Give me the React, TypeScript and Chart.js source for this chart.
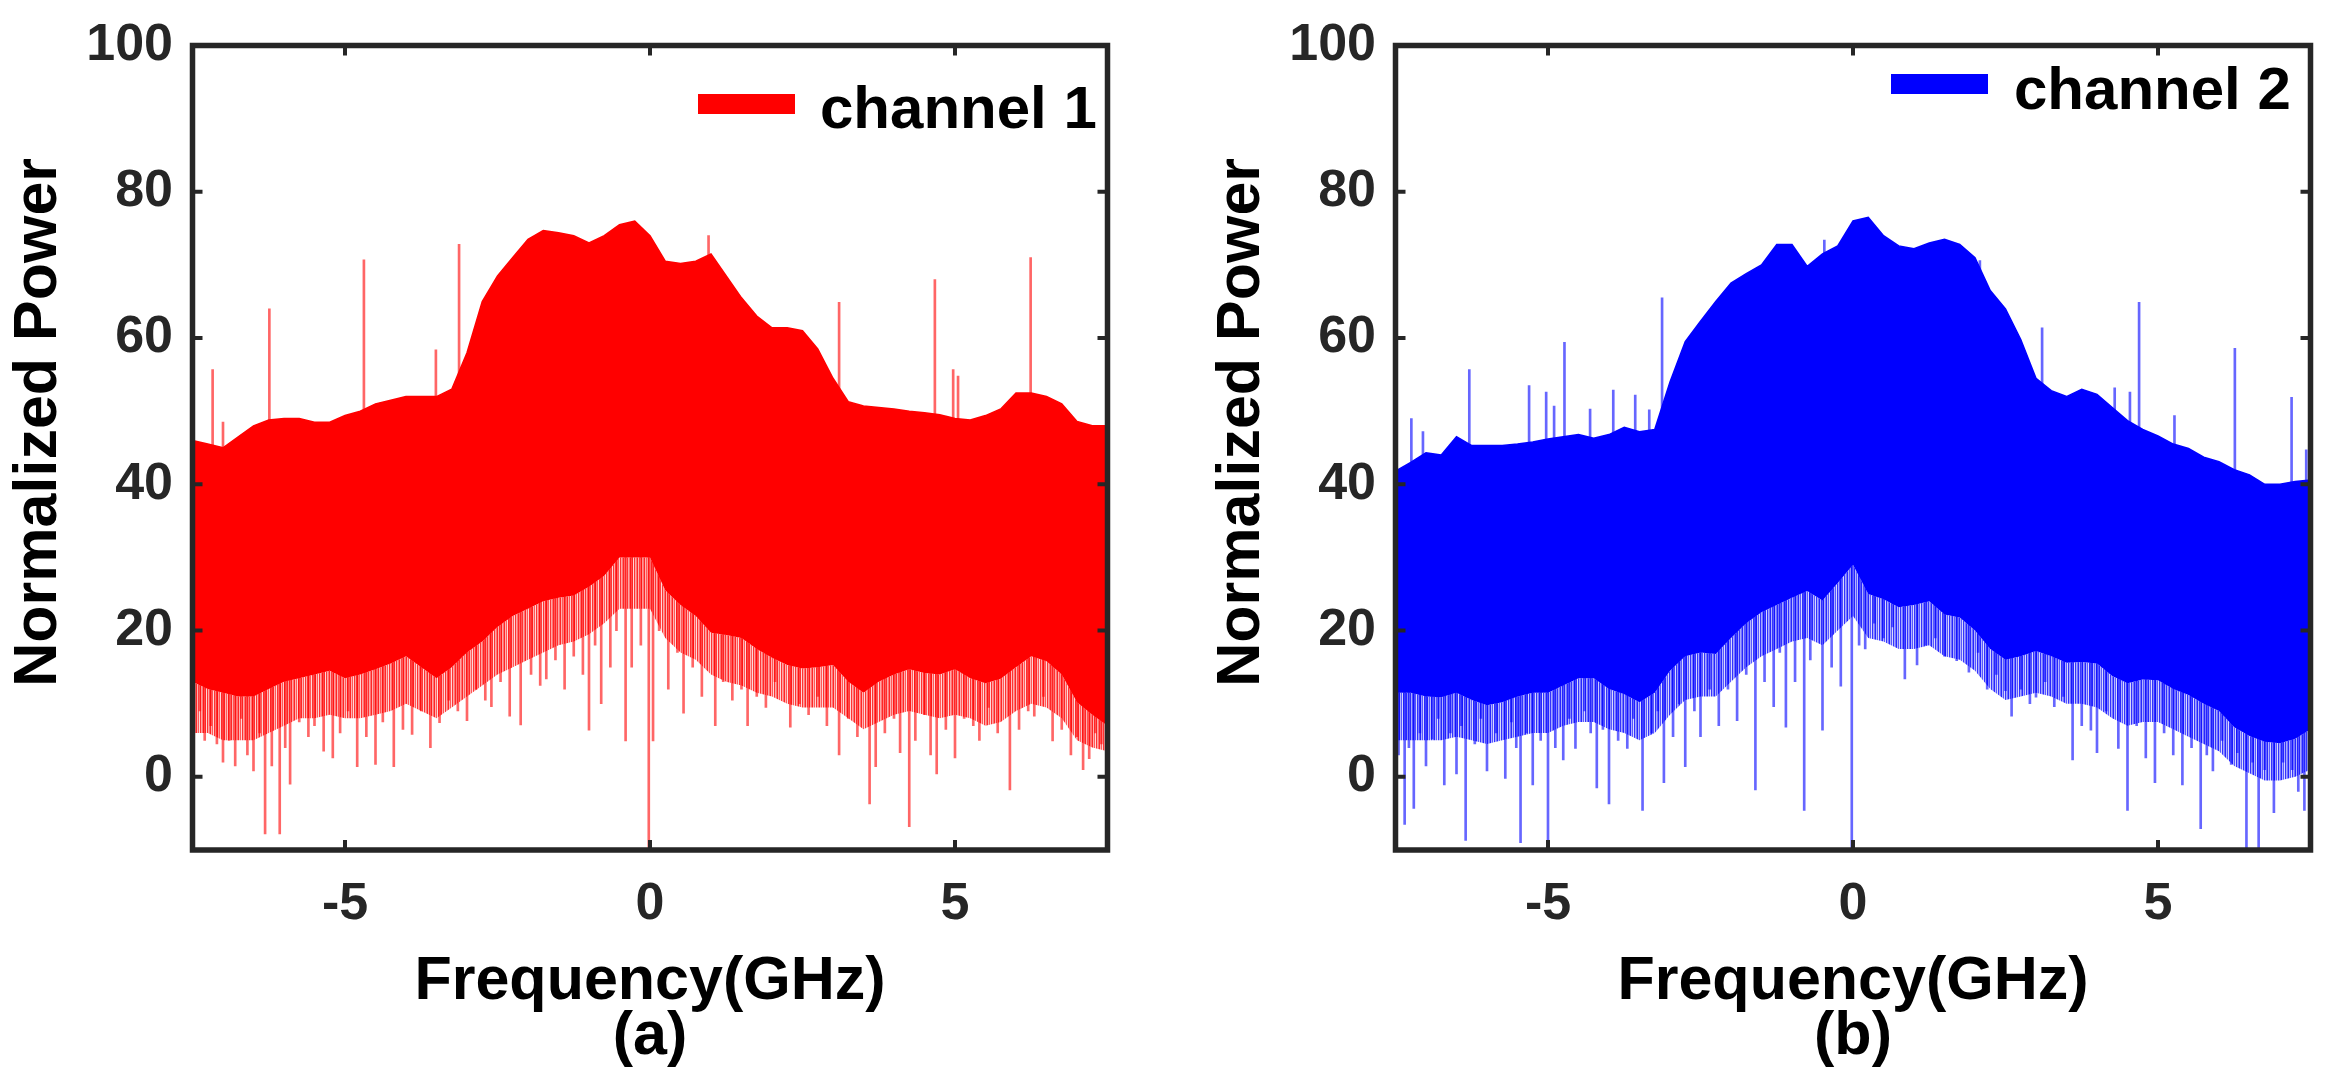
import { useEffect, useRef } from 'react';
import { Chart } from 'chart.js/auto';

const FONT = '"Liberation Sans", Arial, Helvetica, sans-serif';

// frequency grid (GHz) used for the envelope of the noise band
const freqGrid = [
  -7.5, -7.25, -7, -6.75, -6.5, -6.25, -6, -5.75, -5.5, -5.25,
  -5, -4.75, -4.5, -4.25, -4, -3.75, -3.5, -3.25, -3, -2.75,
  -2.5, -2.25, -2, -1.75, -1.5, -1.25, -1, -0.75, -0.5, -0.25,
  0, 0.25, 0.5, 0.75, 1, 1.25, 1.5, 1.75, 2, 2.25,
  2.5, 2.75, 3, 3.25, 3.5, 3.75, 4, 4.25, 4.5, 4.75,
  5, 5.25, 5.5, 5.75, 6, 6.25, 6.5, 6.75, 7, 7.25, 7.5,
];
const xTickValues = [-5, 0, 5];
const yTickValues = [0, 20, 40, 60, 80, 100];

// channel 1: top and bottom of the dense band, and where the line fringe thins out
const ch1Upper = [
  46, 45.5, 45, 46.5, 48, 48.8, 49, 49, 48.5, 48.5,
  49.4, 50, 51, 51.5, 52, 52, 52, 53, 58, 65,
  68.5, 71, 73.5, 74.7, 74.4, 74, 73, 74, 75.5, 76,
  74, 70.5, 70.2, 70.5, 71.5, 68.5, 65.5, 63, 61.4, 61.4,
  61, 58.5, 54.5, 51.3, 50.7, 50.5, 50.3, 50, 49.8, 49.5,
  49, 48.8, 49.4, 50.3, 52.5, 52.5, 52, 51, 48.6, 48, 48,
];
const ch1Lower = [
  13, 12, 11.5, 11, 11, 12, 13, 13.5, 14, 14.5,
  13.5, 14, 14.7, 15.5, 16.5, 15, 13.5, 15, 17, 18.5,
  20.5, 22, 23, 24, 24.5, 24.8, 26, 27.5, 30, 30,
  30, 25.5, 23.5, 22, 19.7, 19.4, 19, 17.5, 16.3, 15.3,
  14.8, 15, 15.3, 13, 11.5, 13, 14, 14.7, 14.2, 14,
  14.7, 13.5, 12.8, 13.4, 15, 16.5, 15.8, 14, 10.2, 8.5, 7,
];
const ch1Fringe = [
  6, 6, 5, 5, 5, 6, 7, 8, 8, 8.5,
  8, 8, 8.5, 9, 10, 9, 8, 9.5, 11, 12.5,
  14, 15, 16, 17, 18, 18.5, 19.5, 21, 23, 23,
  23, 19, 17, 16, 14, 13, 12.5, 11.5, 11, 10,
  9.5, 9.5, 9.5, 8, 6.5, 7.5, 8.5, 9, 8.5, 8,
  8.5, 8, 7, 7.5, 9, 10, 9.5, 8, 5, 4, 3.5,
];
// [freq, peak] of the isolated tones
const ch1Spikes = [
  [-7.17, 55.7], [-7.0, 48.5], [-6.24, 64], [-4.69, 70.7], [-3.51, 58.4], [-3.13, 72.8],
  [0.96, 74], [3.1, 64.9], [4.67, 68], [4.97, 55.7], [5.05, 54.8], [6.24, 71],
];
// [freq, lowest value] of the thin lines under the band
const ch1Dips = [
  [-7.48, 0], [-7.38, 9], [-7.3, 5], [-7.2, 7], [-7.1, 4.5], [-7.0, 2], [-6.9, 5], [-6.8, 1.5],
  [-6.7, 8], [-6.6, 3], [-6.5, 0.8], [-6.4, 6], [-6.31, -7.8], [-6.2, 1.5], [-6.07, -7.8], [-5.98, 4],
  [-5.9, -1], [-5.75, 7.5], [-5.6, 5.5], [-5.5, 7], [-5.35, 3.5], [-5.2, 2.6], [-5.08, 6], [-4.95, 9],
  [-4.8, 1.4], [-4.65, 5.5], [-4.5, 1.7], [-4.38, 7.5], [-4.2, 1.4], [-4.05, 6.5], [-3.9, 5.8], [-3.75, 9],
  [-3.6, 4], [-3.45, 7.4], [-3.3, 10.5], [-3.15, 9], [-3.0, 7.7], [-2.85, 12], [-2.7, 10.5], [-2.6, 9.6],
  [-2.45, 13], [-2.3, 8.3], [-2.12, 7.1], [-1.95, 14], [-1.8, 12.5], [-1.7, 13.4], [-1.55, 16], [-1.4, 12],
  [-1.25, 16.5], [-1.1, 14], [-1.0, 6.4], [-0.9, 18], [-0.8, 10], [-0.65, 15], [-0.55, 20], [-0.4, 4.9],
  [-0.3, 15], [-0.15, 18], [-0.02, -10],
  [0.05, 4.9], [0.15, 20], [0.3, 12], [0.45, 17], [0.55, 8.7], [0.7, 15], [0.85, 11], [1.07, 7],
  [1.2, 13], [1.35, 10.5], [1.5, 12], [1.6, 7], [1.75, 11], [1.9, 9.5], [2.05, 13], [2.3, 6.8],
  [2.45, 10], [2.6, 8.5], [2.75, 11], [2.9, 7], [3.1, 3], [3.25, 8], [3.4, 5.5], [3.6, -3.7],
  [3.7, 1.4], [3.85, 6], [4.0, 8], [4.1, 3.3], [4.25, -6.8], [4.35, 5], [4.5, 8.5], [4.6, 3],
  [4.7, 0.4], [4.85, 6.5], [5.0, 2.6], [5.15, 8], [5.3, 7], [5.4, 5], [5.55, 9.5], [5.7, 6],
  [5.9, -1.8], [6.05, 6.5], [6.2, 9], [6.3, 8.3], [6.45, 11], [6.6, 4.9], [6.75, 6.5], [6.9, 3],
  [7.0, 5.5], [7.1, 1], [7.2, 2.5], [7.3, 6], [7.4, 4.5],
];

// channel 2
const ch2Upper = [
  41.8, 43, 44.3, 44, 46.5, 45.3, 45.3, 45.3, 45.5, 45.8,
  46.2, 46.5, 46.8, 46.3, 46.8, 47.8, 47.2, 47.5, 54, 59.5,
  62.3, 65, 67.5, 68.8, 70, 72.8, 72.8, 69.8, 71.5, 72.6,
  76, 76.5, 74, 72.6, 72.2, 73, 73.5, 72.8, 71, 66.5,
  64, 59.8, 54.5, 52.8, 52, 53, 52.3, 50.5, 48.7, 47.5,
  46.6, 45.5, 44.9, 43.7, 43.1, 42, 41.3, 40, 40, 40.4, 40.6,
];
const ch2Lower = [
  11.5, 11.5, 11, 10.9, 11.5, 10.5, 9.8, 10.2, 11, 11.5,
  11.5, 12.5, 13.5, 13.5, 12, 11.3, 10.2, 11.5, 14.5, 16.5,
  17, 16.8, 19, 21, 22.5, 23.5, 24.5, 25.4, 24.1, 26.5,
  29, 25, 24.3, 23.2, 23.5, 24, 22.2, 21.8, 20, 17.5,
  16, 16.5, 17.2, 16.5, 15.6, 15.7, 15.5, 13.8, 12.8, 13.3,
  13.2, 12, 11.2, 10, 9, 6.8, 5.6, 4.8, 4.6, 5.2, 6.5,
];
const ch2Fringe = [
  5, 5, 5, 5, 5.5, 5, 4.5, 5, 5.5, 6,
  6, 7, 7.5, 7.5, 6.5, 6, 5, 6, 8.5, 10.5,
  11, 11, 13, 15, 16.5, 17.5, 18.5, 19, 18, 20,
  22, 19, 18.5, 17.5, 17.5, 18, 16.5, 16, 14.5, 12,
  10.5, 11, 11.5, 11, 10, 10, 9.5, 8, 7, 7.5,
  7.5, 6.5, 5.5, 4.5, 3.5, 1.5, 0.5, -0.5, -0.5, 0, 1,
];
const ch2Spikes = [
  [-7.24, 49], [-7.05, 47.2], [-6.29, 55.7], [-5.31, 53.5], [-5.03, 52.6], [-4.9, 50.7],
  [-4.73, 59.4], [-4.31, 50.3], [-3.93, 52.9], [-3.57, 52.2], [-3.34, 50.2], [-3.13, 65.5],
  [-0.47, 73.4], [2.08, 70.6], [3.1, 61.4], [4.29, 53.2], [4.54, 52.6], [4.69, 64.9],
  [5.27, 49.4], [6.26, 58.6], [7.19, 51.9], [7.43, 44.7],
];
const ch2Dips = [
  [-7.45, 3], [-7.35, -6.5], [-7.28, 4], [-7.2, -4.3], [-7.1, 6], [-7.0, 1.5], [-6.9, 5.2], [-6.8, 8],
  [-6.7, -1.1], [-6.6, 6], [-6.5, 0.4], [-6.42, 7], [-6.35, -8.7], [-6.2, 4.5], [-6.1, 8], [-6.0, 0.8],
  [-5.85, 6], [-5.7, -0.2], [-5.6, 7.5], [-5.52, 4], [-5.45, -9], [-5.35, 6], [-5.25, -1.1], [-5.12, 5],
  [-5.0, -9.7], [-4.88, 4], [-4.75, 2.3], [-4.65, 8], [-4.55, 3.9], [-4.4, 9], [-4.3, 6], [-4.2, -1.5],
  [-4.1, 6.5], [-4.0, -3.7], [-3.85, 5], [-3.7, 3.9], [-3.6, 8], [-3.45, -4.6], [-3.3, 6], [-3.2, 9],
  [-3.1, -0.8], [-2.95, 5.5], [-2.85, 10], [-2.75, 1.4], [-2.6, 9], [-2.5, 5.5], [-2.35, 12], [-2.2, 7],
  [-2.05, 12], [-1.9, 7.7], [-1.75, 14], [-1.6, -1.8], [-1.45, 13], [-1.3, 9.6], [-1.2, 17], [-1.1, 6.8],
  [-0.95, 13], [-0.8, -4.6], [-0.7, 16], [-0.5, 6.4], [-0.35, 15], [-0.2, 12.4], [-0.02, -10],
  [0.1, 18], [0.2, 17.5], [0.35, 21], [0.5, 19], [0.65, 20.5], [0.85, 13.4], [1.05, 15.3], [1.2, 18],
  [1.35, 19], [1.5, 16.5], [1.7, 15.9], [1.9, 14.3], [2.05, 17], [2.2, 12], [2.35, 14], [2.5, 11.8],
  [2.6, 8.3], [2.75, 12], [2.9, 10], [3.0, 10.9], [3.15, 13], [3.3, 9.6], [3.45, 11], [3.6, 2.3],
  [3.75, 7], [3.9, 6.4], [4.0, 3.3], [4.15, 9], [4.35, 3.9], [4.5, -4.6], [4.65, 7], [4.8, 2.6],
  [4.95, -0.8], [5.1, 6], [5.25, 3], [5.4, -1.1], [5.55, 4], [5.7, -7.1], [5.8, 3], [5.9, 0.8],
  [6.05, 5], [6.2, 1.7], [6.3, 3.3], [6.45, -9.7], [6.55, 2], [6.65, -9.7], [6.75, 1], [6.9, -4.9],
  [7.05, 2], [7.2, 1], [7.3, -2], [7.4, -4.6],
];

// box + inward tick marks on all four sides, like the MATLAB axes
const framePlugin = {
  id: 'frame',
  afterDatasetsDraw(chart: any) {
    const { ctx, chartArea, scales } = chart;
    const { left, right, top, bottom } = chartArea;
    ctx.save();
    ctx.strokeStyle = '#262626';
    ctx.lineWidth = 4;
    ctx.beginPath();
    scales.x.ticks.forEach((t: any) => {
      const px = scales.x.getPixelForValue(t.value);
      ctx.moveTo(px, bottom);
      ctx.lineTo(px, bottom - 10);
      ctx.moveTo(px, top);
      ctx.lineTo(px, top + 10);
    });
    scales.y.ticks.forEach((t: any) => {
      const py = scales.y.getPixelForValue(t.value);
      ctx.moveTo(left, py);
      ctx.lineTo(left + 10, py);
      ctx.moveTo(right, py);
      ctx.lineTo(right - 10, py);
    });
    ctx.stroke();
    ctx.lineWidth = 5.5;
    ctx.strokeRect(left, top, right - left, bottom - top);
    ctx.restore();
  },
};

// legend drawn inside the top right corner of the plot
const legendPlugin = {
  id: 'insideLegend',
  afterDraw(chart: any, _args: any, opts: any) {
    const { ctx, chartArea } = chart;
    const ds = chart.data.datasets[0];
    ctx.save();
    ctx.fillStyle = `rgb(${opts.rgb})`;
    ctx.fillRect(chartArea.right - opts.boxFromRight, opts.boxTop, 97, 20);
    ctx.fillStyle = '#000';
    ctx.font = `bold 60px ${FONT}`;
    ctx.textAlign = 'left';
    ctx.textBaseline = 'alphabetic';
    ctx.fillText(String(ds.label), chartArea.right - opts.textFromRight, opts.baseline);
    ctx.restore();
  },
};

// thin vertical stripes, so the thinning part of the band reads as many lines
function stripes(ctx: CanvasRenderingContext2D, rgb: string) {
  const tile = document.createElement('canvas');
  tile.width = 7;
  tile.height = 1;
  const g = tile.getContext('2d')!;
  [0.85, 0.3, 0.65, 0.15, 0.8, 0.35, 0.55].forEach((a, i) => {
    g.fillStyle = `rgba(${rgb}, ${a})`;
    g.fillRect(i, 0, 1, 1);
  });
  return ctx.createPattern(tile, 'repeat');
}

type PanelProps = {
  left: number;
  width: number;
  padRight: number;
  label: string;
  tag: string;
  rgb: string;
  upper: number[];
  lower: number[];
  fringe: number[];
  spikes: number[][];
  dips: number[][];
  legend: { boxFromRight: number; boxTop: number; textFromRight: number; baseline: number };
};

function SpectrumPanel(p: PanelProps) {
  const chartRef = useRef<HTMLCanvasElement>(null);
  const chartInstance = useRef<Chart | null>(null);

  useEffect(() => {
    if (!chartRef.current) return;
    const ctx = chartRef.current.getContext('2d');
    if (!ctx) return;
    if (chartInstance.current) chartInstance.current.destroy();

    const solid = `rgb(${p.rgb})`;
    const faint = `rgba(${p.rgb}, 0.6)`;

    chartInstance.current = new Chart(ctx, {
      type: 'line',
      data: {
        datasets: [
          {
            label: p.label,
            data: freqGrid.map((f, i) => ({ x: f, y: p.upper[i] })),
            borderColor: solid,
            backgroundColor: solid,
            borderWidth: 1.5,
            pointRadius: 0,
            fill: '+1',
          },
          {
            label: p.label + ' floor',
            data: freqGrid.map((f, i) => ({ x: f, y: p.lower[i] })),
            borderWidth: 0,
            backgroundColor: stripes(ctx, p.rgb),
            pointRadius: 0,
            fill: '+1',
          },
          {
            label: p.label + ' fringe',
            data: freqGrid.map((f, i) => ({ x: f, y: p.fringe[i] })),
            borderWidth: 0,
            pointRadius: 0,
            fill: false,
          },
          {
            type: 'bar',
            label: 'tones',
            data: p.spikes.map(([f, v]) => ({ x: f, y: [35, v] })),
            backgroundColor: faint,
            barThickness: 2,
            stack: 'lines',
          },
          {
            type: 'bar',
            label: 'dips',
            data: p.dips.map(([f, v]) => ({ x: f, y: [v, 30] })),
            backgroundColor: faint,
            barThickness: 2,
            stack: 'lines',
          },
        ] as any,
      },
      options: {
        animation: false,
        responsive: false,
        devicePixelRatio: 1,
        events: [],
        layout: { padding: { left: 0, right: p.padRight, top: 30, bottom: 0 } },
        plugins: {
          legend: { display: false },
          tooltip: { enabled: false },
          insideLegend: { rgb: p.rgb, ...p.legend },
        } as any,
        scales: {
          x: {
            type: 'linear',
            min: -7.5,
            max: 7.5,
            offset: false,
            grid: { display: false, drawTicks: false },
            border: { display: false },
            afterBuildTicks: (s: any) => {
              s.ticks = xTickValues.map((v) => ({ value: v }));
            },
            afterFit: (s: any) => {
              s.height = 236;
            },
            ticks: {
              color: '#262626',
              padding: 29,
              font: { family: FONT, size: 52, weight: 'bold', lineHeight: 1 },
            },
            title: {
              display: true,
              text: ['Frequency(GHz)', p.tag],
              color: '#000',
              padding: { top: 0, bottom: 21 },
              font: { family: FONT, size: 61, weight: 'bold', lineHeight: 0.9 },
            },
          },
          y: {
            min: -10,
            max: 100,
            stacked: false,
            grid: { display: false, drawTicks: false },
            border: { display: false },
            afterBuildTicks: (s: any) => {
              s.ticks = yTickValues.map((v) => ({ value: v }));
            },
            afterFit: (s: any) => {
              s.width = 192.5;
            },
            ticks: {
              color: '#262626',
              padding: 19.5,
              font: { family: FONT, size: 52, weight: 'bold', lineHeight: 1 },
            },
            title: {
              display: true,
              // leading no-break spaces push the label a little towards the top, as in the figure
              text: '\u00A0\u00A0\u00A0Normalized Power',
              color: '#000',
              padding: { top: 3, bottom: 0 },
              font: { family: FONT, size: 61, weight: 'bold', lineHeight: 1.2 },
            },
          },
        } as any,
      },
      plugins: [framePlugin, legendPlugin],
    });

    return () => {
      if (chartInstance.current) {
        chartInstance.current.destroy();
        chartInstance.current = null;
      }
    };
  }, []);

  return (
    <canvas
      ref={chartRef}
      width={p.width}
      height={1086}
      style={{ position: 'absolute', left: p.left, top: 0, width: p.width, height: 1086 }}
    />
  );
}

export default function App() {
  return (
    <div style={{ position: 'absolute', left: 0, top: 0, width: 2330, height: 1086, background: '#fff', overflow: 'hidden' }}>
      <SpectrumPanel
        left={0}
        width={1165}
        padRight={57.5}
        label="channel 1"
        tag="(a)"
        rgb="255, 0, 0"
        upper={ch1Upper}
        lower={ch1Lower}
        fringe={ch1Fringe}
        spikes={ch1Spikes}
        dips={ch1Dips}
        legend={{ boxFromRight: 409.5, boxTop: 94, textFromRight: 287.5, baseline: 128 }}
      />
      <SpectrumPanel
        left={1203}
        width={1127}
        padRight={19.5}
        label="channel 2"
        tag="(b)"
        rgb="0, 0, 255"
        upper={ch2Upper}
        lower={ch2Lower}
        fringe={ch2Fringe}
        spikes={ch2Spikes}
        dips={ch2Dips}
        legend={{ boxFromRight: 419.5, boxTop: 74, textFromRight: 296.5, baseline: 109 }}
      />
    </div>
  );
}
